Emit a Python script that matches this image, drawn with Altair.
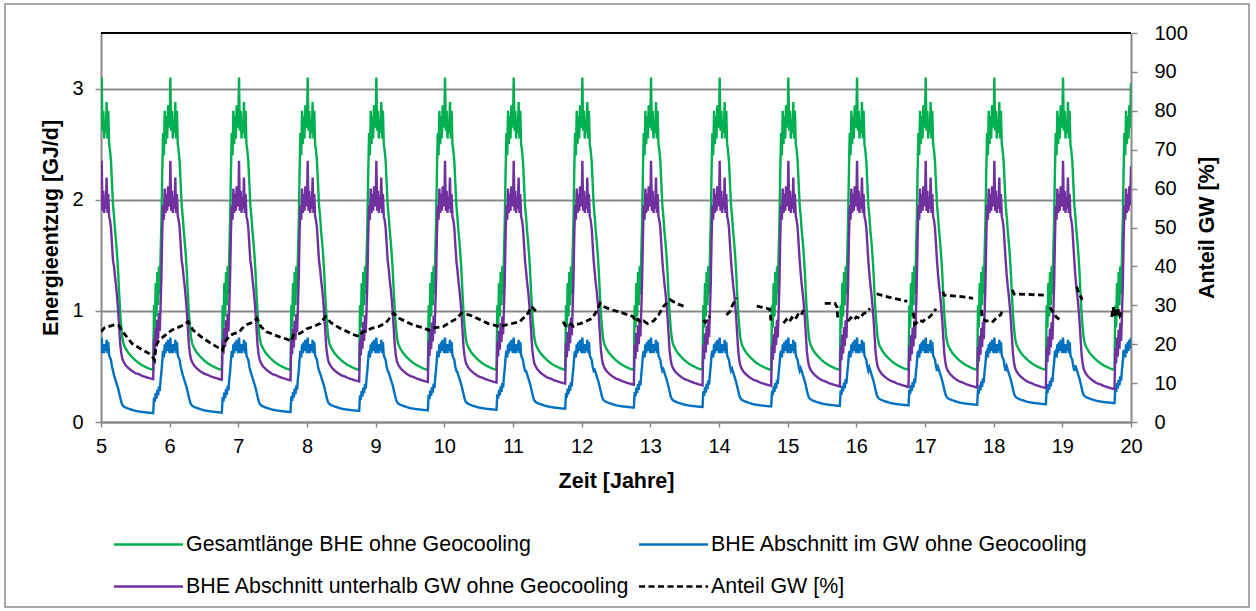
import altair as alt
import pandas as pd

# ---------------- data ----------------
# legend order (Vega fills legend columns first): green, purple | blue, dashed
SERIES = [
    "Gesamtlänge BHE ohne Geocooling",
    "BHE Abschnitt unterhalb GW ohne Geocooling",
    "BHE Abschnitt im GW ohne Geocooling",
    "Anteil GW [%]",
]
COLORS = ["#00B050", "#7030A0", "#0070C0", "#000000"]
DASHES = [[1, 0], [1, 0], [1, 0], [6, 3.5]]

YEARS = list(range(5, 20))

# one yearly cycle (fraction of year after Jan 1)
CYCLE_T = [0.000, 0.010, 0.022, 0.034, 0.046, 0.058, 0.070, 0.082, 0.094, 0.106,
           0.118, 0.130,
           0.145, 0.160, 0.175, 0.190, 0.205, 0.220, 0.235, 0.250, 0.265, 0.280,
           0.295, 0.310, 0.330, 0.360, 0.400, 0.450, 0.500, 0.550, 0.600, 0.650,
           0.700, 0.760,
           0.772, 0.784, 0.796, 0.808, 0.820, 0.832, 0.844, 0.856, 0.868, 0.880,
           0.892, 0.904, 0.916, 0.928, 0.940, 0.952, 0.964, 0.976, 0.988]

GREEN_CYCLE = [2.70, 3.10, 2.62, 2.80, 2.55, 2.72, 2.60, 2.88, 2.55, 2.80,
               2.50, 2.45,
               2.35, 2.15, 1.95, 1.85, 1.72, 1.62, 1.50, 1.35, 1.15, 0.98,
               0.86, 0.76, 0.70, 0.66, 0.62, 0.585, 0.555, 0.53, 0.51, 0.495,
               0.48, 0.47,
               1.05, 0.85, 1.25, 0.95, 1.35, 1.05, 1.40, 1.15, 1.50, 1.80,
               2.25, 2.60, 2.40, 2.80, 2.50, 2.75, 2.55, 2.85, 2.65]

PURPLE_CYCLE = [1.95, 2.35, 1.90, 2.08, 1.88, 2.02, 1.92, 2.20, 1.88, 2.05,
                1.85, 1.82,
                1.75, 1.60, 1.45, 1.40, 1.30, 1.22, 1.12, 1.00, 0.85, 0.70,
                0.62, 0.57, 0.54, 0.51, 0.485, 0.46, 0.44, 0.43, 0.415, 0.405,
                0.395, 0.385,
                0.75, 0.62, 0.85, 0.68, 0.92, 0.75, 0.98, 0.82, 1.05, 1.30,
                1.70, 1.95, 1.82, 2.10, 1.88, 2.05, 1.90, 2.12, 1.95]

BLUE_CYCLE = [0.62, 0.76, 0.62, 0.70, 0.62, 0.70, 0.64, 0.74, 0.62, 0.72,
              0.60, 0.58,
              0.56, 0.50, 0.46, 0.42, 0.39, 0.36, 0.33, 0.30, 0.26, 0.22,
              0.18, 0.155, 0.14, 0.13, 0.12, 0.11, 0.10, 0.095, 0.09, 0.087,
              0.083, 0.08,
              0.22, 0.18, 0.26, 0.21, 0.29, 0.24, 0.32, 0.28, 0.38, 0.45,
              0.55, 0.64, 0.58, 0.70, 0.62, 0.72, 0.64, 0.74, 0.66]

# summer minimum of the GW section per year (it grows slowly; the part below GW shrinks)
BLUE_SUMMER_MIN = [0.080, 0.085, 0.090, 0.100, 0.105, 0.110, 0.120, 0.130,
                   0.135, 0.140, 0.145, 0.150, 0.155, 0.160, 0.170]

END_TIME = 20.0
END_GREEN, END_PURPLE, END_BLUE = 3.05, 2.30, 0.76  # values at the right edge

# share of groundwater section [%] (visible pieces of the dashed line)
GW_TIME = [
    5.00, 5.05, 5.12, 5.20, 5.26, 5.30, 5.45, 5.57, 5.70, 5.76, 5.78, 5.80, 5.84, 5.90, 5.96,
    6.03, 6.10, 6.15, 6.22, 6.27, 6.34, 6.49, 6.62, 6.73, 6.77, 6.80, 6.88, 6.95,
    7.02, 7.05, 7.12, 7.20, 7.27, 7.33, 7.41, 7.60, 7.72, 7.77, 7.80, 7.90,
    8.00, 8.10, 8.19, 8.27, 8.35, 8.48, 8.70, 8.77, 8.80, 8.87, 8.96,
    9.04, 9.15, 9.26, 9.35, 9.55, 9.70, 9.77, 9.80, 9.90, 9.98,
    10.10, 10.18, 10.25, 10.37, 10.64, 10.75, 10.79, 10.88, 10.96,
    11.10, 11.22, 11.27, 11.34,
    11.73, 11.76, 11.80, 11.84, 11.88, 11.93, 11.98, 12.05, 12.15, 12.22, 12.27, 12.32,
    12.41, 12.60, 12.75, 12.78, 12.82, 12.86, 12.90, 12.96, 13.05, 13.12, 13.19, 13.29,
    13.40, 13.50,
    13.77, 13.80, 13.83, 13.87,
    14.11, 14.16, 14.20, 14.26,
    14.55, 14.65, 14.74, 14.76,
    14.94, 14.98, 15.02, 15.06, 15.10, 15.15, 15.19, 15.23,
    15.54, 15.69, 15.72, 15.73,
    15.88, 15.92, 15.96, 16.00, 16.05, 16.10, 16.15, 16.20,
    16.30, 16.32, 16.50, 16.74,
    16.83, 16.85, 16.92, 16.97, 17.01, 17.06, 17.11, 17.16,
    17.26, 17.28, 17.50, 17.70,
    17.82, 17.84, 17.89, 17.94, 17.99, 18.05, 18.10, 18.12,
    18.27, 18.30, 18.50, 18.73,
    18.82, 18.86, 18.91, 18.97,
    19.21, 19.24, 19.27, 19.29,
    19.72, 19.74, 19.76, 19.78, 19.80, 19.82, 19.84, 19.87,
]
GW_VALUE = [
    23.2, 24.2, 24.6, 25.0, 24.8, 23.6, 20.2, 18.9, 17.6, 16.5, 15.9, 19.5, 20.9, 21.8, 22.6,
    23.6, 24.2, 24.5, 25.2, 25.8, 23.6, 21.5, 20.0, 18.9, 18.5, 20.5, 22.3, 22.8,
    23.2, 24.0, 25.0, 25.6, 26.6, 24.5, 23.2, 21.9, 21.2, 20.8, 22.3, 22.8,
    24.0, 24.6, 25.3, 27.1, 25.5, 24.1, 22.3, 22.0, 23.0, 23.6, 24.2,
    24.5, 25.5, 28.0, 26.6, 24.9, 24.2, 23.6, 24.1, 24.3, 24.5,
    25.8, 26.6, 28.0, 27.5, 25.3, 24.8, 24.5, 24.9, 25.2,
    25.8, 28.0, 29.7, 28.4,
    25.8, 24.8, 24.5, 25.2, 24.6, 25.1, 25.3, 25.8, 26.6, 28.5, 30.5, 29.7,
    29.0, 28.0, 27.1, 25.8, 26.4, 25.6, 26.0, 25.3, 26.0, 27.5, 29.7, 31.4,
    30.3, 29.7,
    26.2, 25.6, 26.8, 27.1,
    27.5, 28.5, 30.2, 31.9,
    29.8, 29.4, 29.0, 25.3,
    25.4, 26.3, 25.6, 26.8, 26.2, 27.6, 27.2, 28.8,
    30.5, 30.5, 29.5, 26.2,
    25.9, 26.8, 26.2, 27.0, 26.6, 27.8, 28.2, 29.2,
    33.1, 32.8, 32.0, 31.0,
    28.1, 25.1, 26.2, 25.8, 26.6, 26.9, 27.8, 29.1,
    33.5, 32.6, 32.3, 31.8,
    28.8, 26.6, 25.9, 26.2, 25.8, 27.0, 27.5, 28.3,
    34.0, 32.9, 32.8, 32.6,
    29.5, 28.3, 27.0, 26.2,
    34.8, 33.0, 32.2, 31.4,
    27.0, 29.5, 27.2, 29.3, 27.0, 29.0, 27.4, 28.5,
]
GW_PIECE_LENGTHS = [74, 26, 4, 4, 4, 8, 4, 8, 4, 8, 4, 8, 4, 4, 4, 8]

# ---------------- tables ----------------
rows = []
for yi, year in enumerate(YEARS):
    lift = BLUE_SUMMER_MIN[yi] - BLUE_SUMMER_MIN[0]
    for t, g, p, b in zip(CYCLE_T, GREEN_CYCLE, PURPLE_CYCLE, BLUE_CYCLE):
        shift = lift if 0.19 <= t <= 0.9 else 0.0
        tt = round(year + t, 4)
        rows.append({"t": tt, "v": g, "serie": SERIES[0]})
        rows.append({"t": tt, "v": p - shift, "serie": SERIES[1]})
        rows.append({"t": tt, "v": b + shift, "serie": SERIES[2]})
rows.append({"t": END_TIME, "v": END_GREEN, "serie": SERIES[0]})
rows.append({"t": END_TIME, "v": END_PURPLE, "serie": SERIES[1]})
rows.append({"t": END_TIME, "v": END_BLUE, "serie": SERIES[2]})
df = pd.DataFrame(rows)

pieces = []
for i, n in enumerate(GW_PIECE_LENGTHS):
    pieces += [i] * n
gw = pd.DataFrame({"t": GW_TIME, "v": GW_VALUE, "piece": pieces, "serie": SERIES[3]})

# ---------------- chart ----------------
FONT = "Liberation Sans"
GRAY = "#898989"

color_scale = alt.Scale(domain=SERIES, range=COLORS)
dash_scale = alt.Scale(domain=SERIES, range=DASHES)

x_enc = alt.X("t:Q", scale=alt.Scale(domain=[5, 20], nice=False, zero=False),
              axis=alt.Axis(values=list(range(5, 21)), format="d", title="Zeit [Jahre]",
                            grid=False, tickSize=5, tickColor=GRAY, tickWidth=1.5,
                            domainColor=GRAY, domainWidth=2, labelPadding=9,
                            labelFlush=False, labelFontSize=20, labelColor="#000",
                            titleFontSize=21.5, titleFontWeight="bold", titlePadding=14,
                            titleColor="#000"))

left_axis = alt.Axis(values=[0, 1, 2, 3], title="Energieentzug [GJ/d]", grid=True,
                     gridColor=GRAY, gridWidth=2, tickSize=6, tickColor=GRAY, tickWidth=1.5,
                     domainColor=GRAY, domainWidth=2, labelPadding=12, labelFontSize=20,
                     labelColor="#000", titleFontSize=21.5, titleFontWeight="bold",
                     titlePadding=9, titleColor="#000")
y_left = alt.Y("v:Q", scale=alt.Scale(domain=[0, 3.5], nice=False), axis=left_axis)

# legend line symbol: a wide flat path (69 px long) on a small nominal symbol size,
# so that the legend rows stay close together as in the reference
legend = alt.Legend(title=None, orient="none", legendX=29, legendY=493, columns=2,
                    columnPadding=4, rowPadding=13, symbolType="M-2,0H2",
                    symbolSize=1190, symbolStrokeWidth=2.5, symbolFillColor="transparent",
                    labelFontSize=21.4, labelFont=FONT, labelColor="#000",
                    labelOffset=19, labelLimit=0)

def series_layer(name):
    return alt.Chart(df).transform_filter(alt.datum.serie == name).mark_line(
        strokeWidth=2.4, interpolate="linear", clip=True
    ).encode(
        x=x_enc, y=y_left,
        color=alt.Color("serie:N", scale=color_scale, legend=legend),
        strokeDash=alt.StrokeDash("serie:N", scale=dash_scale, legend=legend),
        order="t:Q",
    )

top_rule = alt.Chart(pd.DataFrame({"top": [3.5]})).mark_rule(
    color="#000", strokeWidth=2
).encode(y=alt.Y("top:Q", scale=alt.Scale(domain=[0, 3.5], nice=False), axis=left_axis))

frame = alt.Chart(pd.DataFrame({"a": [0]})).mark_rect(
    fill="white", fillOpacity=0, stroke="#8c8c8c", strokeWidth=1.5
).encode(x=alt.value(-96), x2=alt.value(1148), y=alt.value(-29), y2=alt.value(574))

# drawing order as in the reference: green, blue, purple, then the dashed share
left = alt.layer(frame, series_layer(SERIES[0]), series_layer(SERIES[2]),
                 series_layer(SERIES[1]), top_rule)

gw_layer = alt.Chart(gw).mark_line(strokeWidth=2.8, clip=True).encode(
    x=x_enc,
    y=alt.Y("v:Q", scale=alt.Scale(domain=[0, 100], nice=False),
            axis=alt.Axis(orient="right", values=list(range(0, 101, 10)), title="Anteil GW [%]",
                          grid=False, tickSize=6, tickColor=GRAY, tickWidth=1.5,
                          domainColor=GRAY, domainWidth=2, labelPadding=17, labelFontSize=20,
                          labelColor="#000", titleFontSize=21.5, titleFontWeight="bold",
                          titleAngle=270, titlePadding=31, titleColor="#000")),
    color=alt.Color("serie:N", scale=color_scale, legend=legend),
    strokeDash=alt.StrokeDash("serie:N", scale=dash_scale, legend=legend),
    detail="piece:N",
    order="t:Q",
)

chart = alt.layer(left, gw_layer).resolve_scale(y="independent").properties(
    width=1030, height=389,
    autosize=alt.AutoSizeParams(type="none"),
    padding={"left": 101, "top": 33, "right": 125, "bottom": 189},
    background="white",
).configure(font=FONT).configure_view(stroke=None)

chart.save("out.html", embed_options={"renderer": "svg", "actions": False})
